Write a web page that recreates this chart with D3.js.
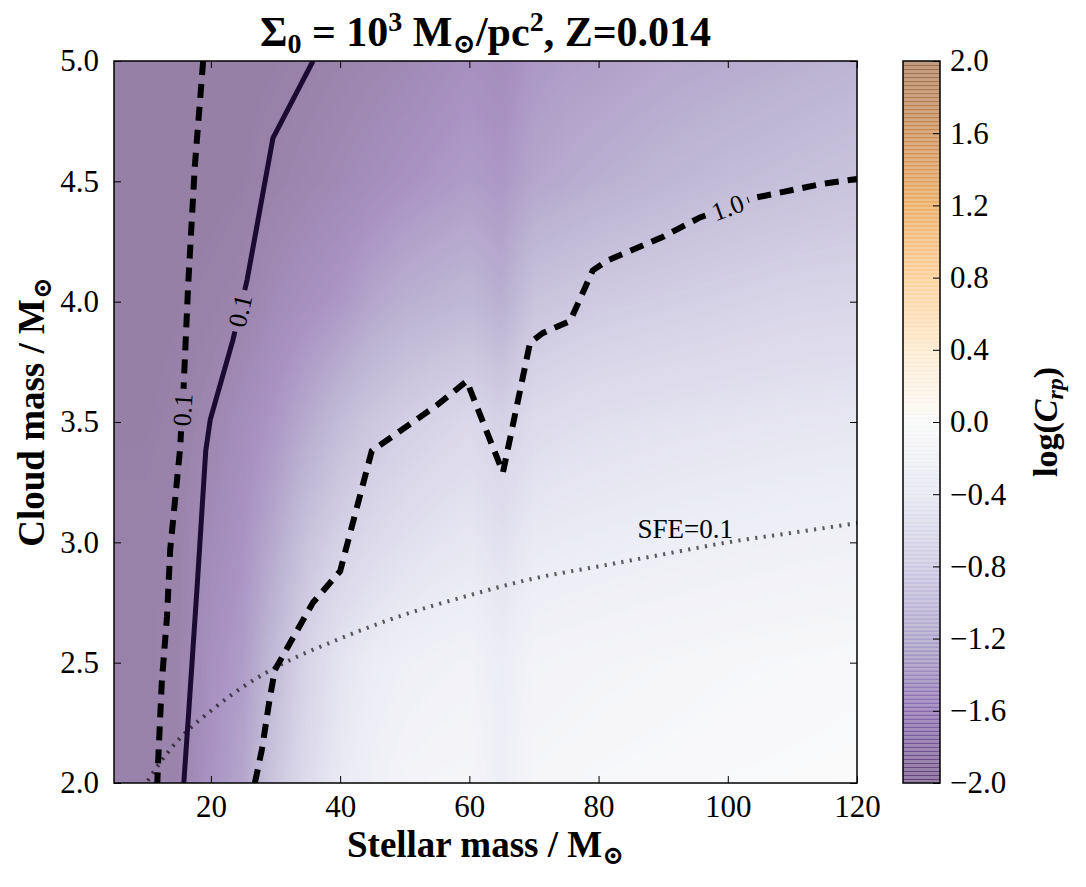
<!DOCTYPE html>
<html>
<head>
<meta charset="utf-8">
<script src="https://cdn.jsdelivr.net/npm/d3@7"></script>
<style>
  body { margin: 0; background: #fff; }
  text { font-family: "Liberation Serif", "DejaVu Serif", serif; fill: #000; }
  .tick line { stroke: #000; stroke-width: 1; }
</style>
</head>
<body>
<div id="wrapper"></div>
<script>
// grid of the map (cloud mass rows listed top to bottom)
var stellarMass = [5, 10, 15, 20, 25, 30, 35, 40, 45, 50, 55, 60, 65, 70, 75, 80, 90, 100, 110, 120];
var cloudMass = [5.0, 4.5, 4.0, 3.5, 3.0, 2.5, 2.0];
var logCrp = [
    [-2.0, -2.0, -2.0, -2.0, -2.0, -1.98, -1.95, -1.9, -1.85, -1.8, -1.72, -1.65, -1.7, -1.55, -1.5, -1.47, -1.4, -1.35, -1.3, -1.25],
    [-2.0, -2.0, -2.0, -2.0, -1.98, -1.92, -1.85, -1.78, -1.7, -1.62, -1.55, -1.5, -1.55, -1.4, -1.35, -1.3, -1.22, -1.15, -1.1, -1.05],
    [-2.0, -2.0, -1.98, -1.95, -1.9, -1.75, -1.65, -1.55, -1.4, -1.3, -1.25, -1.2, -1.3, -1.05, -1.0, -0.95, -0.9, -0.85, -0.8, -0.78],
    [-1.98, -1.98, -1.95, -1.85, -1.7, -1.55, -1.35, -1.15, -1.0, -0.9, -0.82, -0.75, -0.85, -0.7, -0.65, -0.62, -0.58, -0.55, -0.52, -0.5],
    [-1.95, -1.95, -1.92, -1.75, -1.6, -1.35, -1.05, -0.85, -0.72, -0.62, -0.55, -0.5, -0.6, -0.45, -0.42, -0.4, -0.36, -0.33, -0.3, -0.28],
    [-1.95, -1.95, -1.9, -1.65, -1.5, -1.15, -0.8, -0.55, -0.4, -0.32, -0.28, -0.25, -0.38, -0.22, -0.2, -0.18, -0.15, -0.12, -0.1, -0.08],
    [-1.95, -1.95, -1.9, -1.6, -1.4, -1.0, -0.7, -0.45, -0.3, -0.2, -0.16, -0.15, -0.35, -0.14, -0.12, -0.1, -0.08, -0.06, -0.05, -0.04]
];

// contour lines [stellar mass, log cloud mass]
var dashedLow = [[18.8, 5.0], [17.5, 4.56], [16.5, 4.08], [15.7, 3.60], [15.2, 3.38], [13.7, 2.97], [13.2, 2.69], [12.4, 2.42], [11.8, 2.07], [11.7, 2.0]];
var solidLow = [[35.8, 5.0], [29.6, 4.68], [25.6, 4.09], [23.4, 3.84], [19.9, 3.51], [19.2, 3.38], [17.9, 2.83], [16.5, 2.27], [15.8, 2.0]];
var dashedHigh = [[26.8, 2.0], [27.9, 2.14], [29.1, 2.35], [29.9, 2.47], [35.8, 2.75], [40.0, 2.88], [44.9, 3.38], [55.0, 3.57], [59.6, 3.67],
    [65.2, 3.29], [69.4, 3.83], [71.4, 3.87], [75.6, 3.92], [79.1, 4.13], [81.3, 4.17], [90.0, 4.27], [95.7, 4.35], [103.9, 4.43], [114.7, 4.49], [120.0, 4.51]];
var sfeLine = [[9.5, 1.98], [10, 2.0], [12, 2.08], [15, 2.18], [20, 2.30], [25, 2.40], [30, 2.48], [40, 2.60], [50, 2.70], [60, 2.78],
    [70, 2.85], [80, 2.90], [90, 2.95], [100, 3.0], [110, 3.04], [120, 3.08]];

// inline contour labels
var contourLabels = [
    {text: "0.1", line: dashedLow, at: [15.4, 3.55]},
    {text: "0.1", line: solidLow, at: [24.8, 3.96]},
    {text: "1.0", line: dashedHigh, at: [100.0, 4.39]}
];

var xTicks = [20, 40, 60, 80, 100, 120];
var yTicks = [2.0, 2.5, 3.0, 3.5, 4.0, 4.5, 5.0];
var cbarTicks = [2.0, 1.6, 1.2, 0.8, 0.4, 0.0, -0.4, -0.8, -1.2, -1.6, -2.0];
// PuOr, reversed so low values are purple
var cmapColors = ["#2d004b", "#542788", "#8073ac", "#b2abd2", "#d8daeb", "#f7f7f7", "#fee0b6", "#fdb863", "#e08214", "#b35806", "#7f3b08"];

var margin = {top: 61, left: 114};
var width = 743, height = 722;
var alpha = 0.5;

var x = d3.scaleLinear().domain([5, 120]).range([0, width]);
var y = d3.scaleLinear().domain([2, 5]).range([height, 0]);
var color = d3.scaleLinear()
    .domain(d3.range(cmapColors.length).map(function(i) { return -2 + 4 * i / (cmapColors.length - 1); }))
    .range(cmapColors)
    .clamp(true);

var svg = d3.select("#wrapper")
    .append("svg")
    .attr("width", 1086)
    .attr("height", 887);

var defs = svg.append("defs");
defs.append("clipPath").attr("id", "plot-clip")
    .append("rect").attr("width", width).attr("height", height);

var plot = svg.append("g")
    .attr("transform", "translate(" + margin.left + "," + margin.top + ")");

// Function: heat map drawn into a canvas with bilinear interpolation
var drawMap = function() {
    var colIndex = d3.scaleLinear().domain(stellarMass).range(d3.range(stellarMass.length)).clamp(true);
    var rowIndex = d3.scaleLinear().domain(cloudMass).range(d3.range(cloudMass.length)).clamp(true);
    var lut = d3.range(401).map(function(i) {
        var c = d3.rgb(color(-2 + i * 0.01));
        return [c.r * alpha + 255 * (1 - alpha), c.g * alpha + 255 * (1 - alpha), c.b * alpha + 255 * (1 - alpha)];
    });
    var canvas = document.createElement("canvas");
    canvas.width = width;
    canvas.height = height;
    var ctx = canvas.getContext("2d");
    var img = ctx.createImageData(width, height);
    var cols = d3.range(width).map(function(px) {
        var f = colIndex(x.invert(px + 0.5));
        var i = Math.min(Math.floor(f), stellarMass.length - 2);
        return [i, f - i];
    });
    for (var py = 0; py < height; py++) {
        var fr = rowIndex(y.invert(py + 0.5));
        var r = Math.min(Math.floor(fr), cloudMass.length - 2), tr = fr - r;
        var a = logCrp[r], b = logCrp[r + 1];
        for (var px = 0; px < width; px++) {
            var c = cols[px][0], tc = cols[px][1];
            var v = (1 - tr) * ((1 - tc) * a[c] + tc * a[c + 1]) + tr * ((1 - tc) * b[c] + tc * b[c + 1]);
            var k = Math.max(0, Math.min(400, Math.round((v + 2) * 100)));
            var o = (py * width + px) * 4;
            img.data[o] = lut[k][0];
            img.data[o + 1] = lut[k][1];
            img.data[o + 2] = lut[k][2];
            img.data[o + 3] = 255;
        }
    }
    ctx.putImageData(img, 0, 0);
    plot.append("image")
        .attr("width", width)
        .attr("height", height)
        .attr("href", canvas.toDataURL());
};

// Function: place contour labels and cut gaps in the lines
var addLabels = function(mask) {
    contourLabels.forEach(function(lab) {
        var px = x(lab.at[0]), py = y(lab.at[1]);
        var best = null;
        for (var i = 0; i < lab.line.length - 1; i++) {
            var x0 = x(lab.line[i][0]), y0 = y(lab.line[i][1]);
            var x1 = x(lab.line[i + 1][0]), y1 = y(lab.line[i + 1][1]);
            var dx = x1 - x0, dy = y1 - y0;
            var t = Math.max(0, Math.min(1, ((px - x0) * dx + (py - y0) * dy) / (dx * dx + dy * dy)));
            var qx = x0 + t * dx, qy = y0 + t * dy;
            var dist = (qx - px) * (qx - px) + (qy - py) * (qy - py);
            if (!best || dist < best.dist) best = {dist: dist, x: qx, y: qy, dx: dx, dy: dy};
        }
        var angle = Math.atan2(best.dy, best.dx) * 180 / Math.PI;
        if (angle > 90) angle -= 180;
        if (angle < -90) angle += 180;
        var tf = "translate(" + best.x + "," + best.y + ") rotate(" + angle + ")";
        var t = plot.append("text")
            .attr("transform", tf)
            .attr("text-anchor", "middle")
            .attr("dy", "0.35em")
            .style("font-size", "26px")
            .text(lab.text);
        var w = t.node().getComputedTextLength();
        mask.append("rect")
            .attr("transform", tf)
            .attr("x", -w / 2 - 5)
            .attr("y", -12)
            .attr("width", w + 10)
            .attr("height", 24)
            .attr("fill", "black");
    });
};

drawMap();

var mask = defs.append("mask").attr("id", "label-gap");
mask.append("rect").attr("width", width).attr("height", height).attr("fill", "white");

var line = d3.line().x(function(d) { return x(d[0]); }).y(function(d) { return y(d[1]); });

var lines = plot.append("g").attr("clip-path", "url(#plot-clip)")
    .append("g").attr("mask", "url(#label-gap)");

lines.append("path")
    .datum(sfeLine)
    .attr("d", line.curve(d3.curveMonotoneX))
    .attr("fill", "none")
    .attr("stroke", "#000")
    .attr("stroke-opacity", 0.62)
    .attr("stroke-width", 4)
    .attr("stroke-dasharray", "2.2,6.3");

line.curve(d3.curveLinear);

lines.append("path")
    .datum(solidLow)
    .attr("d", line)
    .attr("fill", "none")
    .attr("stroke", "#1c0a33")
    .attr("stroke-width", 5);

lines.selectAll("path.dashed")
    .data([dashedLow, dashedHigh])
    .enter()
    .append("path")
    .attr("class", "dashed")
    .attr("d", line)
    .attr("fill", "none")
    .attr("stroke", "#000")
    .attr("stroke-width", 6)
    .attr("stroke-dasharray", "14,9");

addLabels(mask);

plot.append("text")
    .attr("x", x(93.4))
    .attr("y", y(3.02))
    .attr("text-anchor", "middle")
    .style("font-size", "27px")
    .text("SFE=0.1");

// Function: axes with inward ticks on all four sides
var styleAxis = function(g) {
    g.select(".domain").remove();
    g.selectAll(".tick text").style("font-size", "31px").attr("fill", "#000");
};

plot.append("g")
    .attr("transform", "translate(0," + height + ")")
    .call(d3.axisBottom(x).tickValues(xTicks).tickSizeInner(-7).tickSizeOuter(0).tickPadding(12))
    .call(styleAxis);
plot.append("g")
    .call(d3.axisTop(x).tickValues(xTicks).tickSizeInner(-7).tickSizeOuter(0).tickFormat(""))
    .call(styleAxis);
plot.append("g")
    .call(d3.axisLeft(y).tickValues(yTicks).tickSizeInner(-7).tickSizeOuter(0).tickPadding(15).tickFormat(d3.format(".1f")))
    .call(styleAxis);
plot.append("g")
    .attr("transform", "translate(" + width + ",0)")
    .call(d3.axisRight(y).tickValues(yTicks).tickSizeInner(-7).tickSizeOuter(0).tickFormat(""))
    .call(styleAxis);

plot.append("rect")
    .attr("width", width)
    .attr("height", height)
    .attr("fill", "none")
    .attr("stroke", "#000")
    .attr("stroke-width", 1.5);

// Function: colour bar
var addColorbar = function() {
    var cy = d3.scaleLinear().domain([-2, 2]).range([height, 0]);
    var n = 180, step = 4 / n;
    var cb = svg.append("g").attr("transform", "translate(903," + margin.top + ")");
    cb.selectAll("rect.band")
        .data(d3.range(n).map(function(i) { return -2 + i * step; }))
        .enter()
        .append("rect")
        .attr("class", "band")
        .attr("x", 0)
        .attr("width", 37)
        .attr("y", function(d) { return cy(d + step); })
        .attr("height", function(d) { return Math.min(cy(d) - cy(d + step) + 1, height - cy(d + step)); })
        .attr("fill", function(d) { return color(d + step / 2); })
        .attr("fill-opacity", alpha);
    cb.append("g")
        .attr("transform", "translate(37,0)")
        .call(d3.axisRight(cy).tickValues(cbarTicks).tickSizeInner(-7).tickSizeOuter(0).tickPadding(10).tickFormat(d3.format(".1f")))
        .call(styleAxis);
    cb.append("rect")
        .attr("width", 37)
        .attr("height", height)
        .attr("fill", "none")
        .attr("stroke", "#000")
        .attr("stroke-width", 1.5);

    var lab = svg.append("text")
        .attr("transform", "translate(1057," + (margin.top + height / 2) + ") rotate(-90)")
        .attr("text-anchor", "middle")
        .style("font-size", "34px")
        .style("font-weight", "bold");
    lab.append("tspan").text("log(");
    lab.append("tspan").style("font-style", "italic").text("C");
    lab.append("tspan").style("font-style", "italic").style("font-size", "24px").attr("baseline-shift", "-6").text("rp");
    lab.append("tspan").text(")");
};

addColorbar();

// titles
var title = svg.append("text")
    .attr("x", margin.left + width / 2)
    .attr("y", 46)
    .attr("text-anchor", "middle")
    .style("font-size", "42px")
    .style("font-weight", "bold");
title.append("tspan").text("Σ");
title.append("tspan").style("font-size", "28px").attr("baseline-shift", "-7").text("0");
title.append("tspan").text(" = 10");
title.append("tspan").style("font-size", "28px").attr("baseline-shift", "15").text("3");
title.append("tspan").text(" M");
title.append("tspan").style("font-size", "28px").attr("baseline-shift", "-7").text("⊙");
title.append("tspan").text("/pc");
title.append("tspan").style("font-size", "28px").attr("baseline-shift", "15").text("2");
title.append("tspan").text(", Z=0.014");

var xLab = svg.append("text")
    .attr("x", margin.left + width / 2)
    .attr("y", 857)
    .attr("text-anchor", "middle")
    .style("font-size", "37px")
    .style("font-weight", "bold");
xLab.append("tspan").text("Stellar mass / M");
xLab.append("tspan").style("font-size", "26px").attr("baseline-shift", "-7").text("⊙");

var yLab = svg.append("text")
    .attr("transform", "translate(44,412) rotate(-90)")
    .attr("text-anchor", "middle")
    .style("font-size", "37px")
    .style("font-weight", "bold");
yLab.append("tspan").text("Cloud mass / M");
yLab.append("tspan").style("font-size", "26px").attr("baseline-shift", "-7").text("⊙");
</script>
</body>
</html>
